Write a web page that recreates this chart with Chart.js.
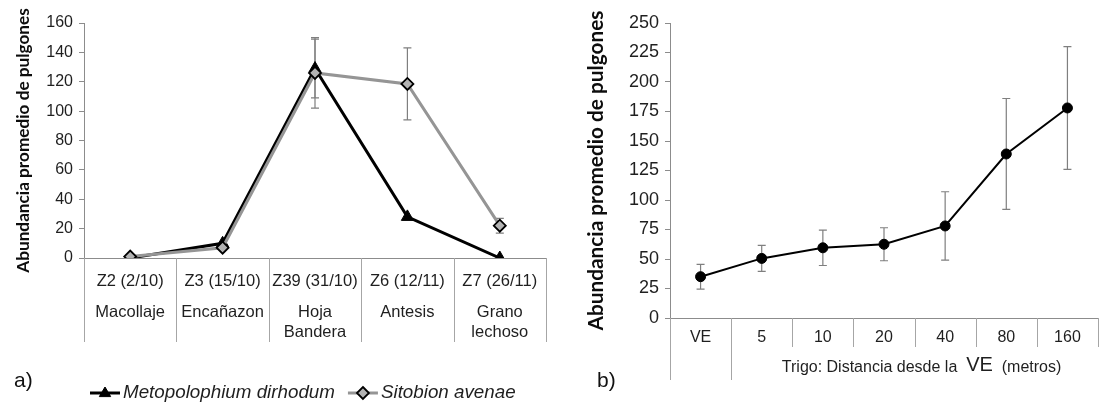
<!DOCTYPE html>
<html><head><meta charset="utf-8">
<script src="https://cdn.jsdelivr.net/npm/chart.js@4.4.1/dist/chart.umd.min.js"></script>
<style>
html,body{margin:0;padding:0;background:#fff;width:1104px;height:404px;overflow:hidden;}
#a{position:absolute;left:0;top:0;}
#b{position:absolute;left:560px;top:0;}
</style></head><body>
<canvas id="a" width="560" height="404"></canvas>
<canvas id="b" width="544" height="404"></canvas>
<script>
// ---------- data: chart a ----------
const stageDates = ['Z2 (2/10)','Z3 (15/10)','Z39 (31/10)','Z6 (12/11)','Z7 (26/11)'];
const stageNames = [['Macollaje'],['Encañazon'],['Hoja','Bandera'],['Antesis'],['Grano','lechoso']];
const metoValues = [0, 10, 129, 28, 0];
const metoErr    = [0, 0, 20, 0, 0];
const sitoValues = [1, 7, 126, 118.5, 22];
const sitoErr    = [0, 0, 24, 24.5, 5];
const yMaxA = 160, yStepA = 20;
// ---------- data: chart b ----------
const distLabels = ['VE','5','10','20','40','80','160'];
const distValues = [35, 50.5, 59.5, 62.5, 78, 139, 178];
const distErr    = [10.5, 11, 15, 14, 29, 47, 52];
const yMaxB = 250, yStepB = 25;

const YTITLE = 'Abundancia promedio de pulgones';
const SANS = '"Liberation Sans", Arial, sans-serif';
const TITLEFONT = 'Lato, "Open Sans", sans-serif';
const TXT = '#1f1f1f';
const AXIS = '#8c8c8c';

const errorBarPlugin = {
  id: 'errbars',
  beforeDatasetsDraw(chart) {
    const ctx = chart.ctx, ys = chart.scales.y;
    ctx.save();
    ctx.strokeStyle = '#7f7f7f'; ctx.lineWidth = 1.2;
    chart.data.datasets.forEach((ds, di) => {
      const meta = chart.getDatasetMeta(di);
      (ds.errorBars || []).forEach((e, i) => {
        if (!e) return;
        const x = meta.data[i].x, v = ds.data[i];
        const y1 = ys.getPixelForValue(v + e), y2 = ys.getPixelForValue(v - e);
        ctx.beginPath();
        ctx.moveTo(x, y1); ctx.lineTo(x, y2);
        ctx.moveTo(x - 4, y1); ctx.lineTo(x + 4, y1);
        ctx.moveTo(x - 4, y2); ctx.lineTo(x + 4, y2);
        ctx.stroke();
      });
    });
    ctx.restore();
  }
};

function drawYTitle(chart, cx, size) {
  const ctx = chart.ctx, a = chart.chartArea;
  ctx.save();
  ctx.translate(cx, (a.top + a.bottom) / 2);
  ctx.rotate(-Math.PI / 2);
  ctx.font = 'bold ' + size + 'px ' + TITLEFONT;
  ctx.fillStyle = '#0d0d0d';
  ctx.textAlign = 'center'; ctx.textBaseline = 'middle';
  ctx.fillText(YTITLE, 0, 0);
  ctx.restore();
}

function marker(ctx, style, x, y, r, fill, stroke, lw) {
  ctx.save();
  ctx.fillStyle = fill; ctx.strokeStyle = stroke; ctx.lineWidth = lw;
  ctx.beginPath();
  if (style === 'triangle') {
    ctx.moveTo(x, y - r); ctx.lineTo(x + r * 0.95, y + r * 0.6); ctx.lineTo(x - r * 0.95, y + r * 0.6); ctx.closePath();
  } else if (style === 'rectRot') {
    ctx.moveTo(x, y - r); ctx.lineTo(x + r, y); ctx.lineTo(x, y + r); ctx.lineTo(x - r, y); ctx.closePath();
  } else {
    ctx.arc(x, y, r, 0, Math.PI * 2);
  }
  ctx.fill(); if (lw) ctx.stroke();
  ctx.restore();
}

const decorA = {
  id: 'decorA',
  afterDraw(chart) {
    const ctx = chart.ctx, xs = chart.scales.x, a = chart.chartArea;
    ctx.save();
    ctx.strokeStyle = '#a6a6a6'; ctx.lineWidth = 1;
    for (let i = 0; i <= stageDates.length; i++) {
      const x = Math.round(xs.getPixelForValue(i - 0.5)) + 0.5;
      ctx.beginPath(); ctx.moveTo(x, a.bottom); ctx.lineTo(x, 342); ctx.stroke();
    }
    ctx.fillStyle = TXT; ctx.textAlign = 'center'; ctx.textBaseline = 'middle';
    ctx.font = '16.5px ' + SANS;
    stageDates.forEach((t, i) => {
      const x = xs.getPixelForValue(i);
      ctx.fillText(t, x, 281);
      stageNames[i].forEach((n, j) => ctx.fillText(n, x, 312 + j * 20));
    });
    // panel letter
    ctx.font = '21px ' + SANS; ctx.fillStyle = '#111'; ctx.textAlign = 'left';
    ctx.fillText('a)', 14, 381);
    // legend
    ctx.font = 'italic 18.8px ' + SANS; ctx.fillStyle = TXT;
    let lx = 90;
    chart.data.datasets.slice().sort((p, q) => p.legendIndex - q.legendIndex).forEach(ds => {
      ctx.save(); ctx.strokeStyle = ds.borderColor; ctx.lineWidth = 3;
      ctx.beginPath(); ctx.moveTo(lx, 393); ctx.lineTo(lx + 30, 393); ctx.stroke(); ctx.restore();
      marker(ctx, ds.pointStyle, lx + 15, 393, 6, ds.pointBackgroundColor, ds.pointBorderColor, ds.pointBorderWidth);
      ctx.fillStyle = TXT; ctx.textAlign = 'left';
      ctx.fillText(ds.label, lx + 33, 393);
      lx += 33 + ctx.measureText(ds.label).width + 13;
    });
    ctx.restore();
    drawYTitle(chart, 23, 17.2);
  }
};

const decorB = {
  id: 'decorB',
  afterDraw(chart) {
    const ctx = chart.ctx, xs = chart.scales.x, a = chart.chartArea;
    ctx.save();
    ctx.strokeStyle = '#a6a6a6'; ctx.lineWidth = 1;
    for (let i = 0; i <= distLabels.length; i++) {
      const x = Math.round(xs.getPixelForValue(i - 0.5)) + 0.5;
      const yb = (i <= 1) ? 380 : 347;
      ctx.beginPath(); ctx.moveTo(x, a.bottom); ctx.lineTo(x, yb); ctx.stroke();
    }
    ctx.fillStyle = TXT; ctx.textAlign = 'center'; ctx.textBaseline = 'middle';
    ctx.font = '16px ' + SANS;
    distLabels.forEach((t, i) => ctx.fillText(t, xs.getPixelForValue(i), 338));
    // group label
    const cx = (xs.getPixelForValue(0.5) + xs.getPixelForValue(distLabels.length - 0.5)) / 2 + 7;
    const parts = [['Trigo: Distancia desde la  ', 16], ['VE', 20], ['  (metros)', 16]];
    let tw = 0;
    parts.forEach(p => { ctx.font = p[1] + 'px ' + SANS; tw += ctx.measureText(p[0]).width; });
    let x = cx - tw / 2; ctx.textAlign = 'left';
    parts.forEach(p => {
      ctx.font = p[1] + 'px ' + SANS;
      ctx.fillText(p[0], x, p[1] > 16 ? 365 : 368);
      x += ctx.measureText(p[0]).width;
    });
    ctx.font = '21px ' + SANS; ctx.fillStyle = '#111';
    ctx.fillText('b)', 37, 381);
    ctx.restore();
    drawYTitle(chart, 36, 20.8);
  }
};

function yScale(max, step, size, width) {
  return {
    min: 0, max: max,
    ticks: { stepSize: step, color: TXT, font: { family: SANS, size: size }, padding: 6 },
    grid: { drawOnChartArea: false, drawTicks: true, tickLength: 5, color: AXIS },
    border: { color: AXIS, width: 1 },
    afterFit: s => { s.width = width; }
  };
}
function xScale(height) {
  return {
    type: 'category', offset: true,
    ticks: { display: false },
    grid: { display: false },
    border: { display: true, color: AXIS, width: 1 },
    afterFit: s => { s.height = height; }
  };
}

new Chart(document.getElementById('a'), {
  type: 'line',
  data: {
    labels: stageDates,
    datasets: [
      { label: 'Metopolophium dirhodum', data: metoValues, errorBars: metoErr, legendIndex: 0, order: 2,
        borderColor: '#000', borderWidth: 3, pointStyle: 'triangle', pointRadius: 7,
        pointBackgroundColor: '#000', pointBorderColor: '#000', pointBorderWidth: 1 },
      { label: 'Sitobion avenae', data: sitoValues, errorBars: sitoErr, legendIndex: 1, order: 1,
        borderColor: '#959595', borderWidth: 3, pointStyle: 'rectRot', pointRadius: 6,
        pointBackgroundColor: '#b3b3b3', pointBorderColor: '#000', pointBorderWidth: 1.8 }
    ]
  },
  options: {
    responsive: false, animation: false, devicePixelRatio: 1,
    layout: { padding: { top: 23, right: 14, bottom: 0, left: 0 } },
    plugins: { legend: { display: false }, tooltip: { enabled: false } },
    elements: { line: { tension: 0 } },
    scales: { x: xScale(146), y: yScale(yMaxA, yStepA, 16, 84) }
  },
  plugins: [errorBarPlugin, decorA]
});

new Chart(document.getElementById('b'), {
  type: 'line',
  data: {
    labels: distLabels,
    datasets: [
      { label: 'Abundancia', data: distValues, errorBars: distErr,
        borderColor: '#000', borderWidth: 2, pointStyle: 'circle', pointRadius: 5,
        pointBackgroundColor: '#000', pointBorderColor: '#000', pointBorderWidth: 1 }
    ]
  },
  options: {
    responsive: false, animation: false, devicePixelRatio: 1,
    layout: { padding: { top: 23, right: 0, bottom: 0, left: 0 } },
    plugins: { legend: { display: false }, tooltip: { enabled: false } },
    elements: { line: { tension: 0 } },
    scales: { x: xScale(86), y: yScale(yMaxB, yStepB, 18, 110) }
  },
  plugins: [errorBarPlugin, decorB]
});
</script>
</body></html>
